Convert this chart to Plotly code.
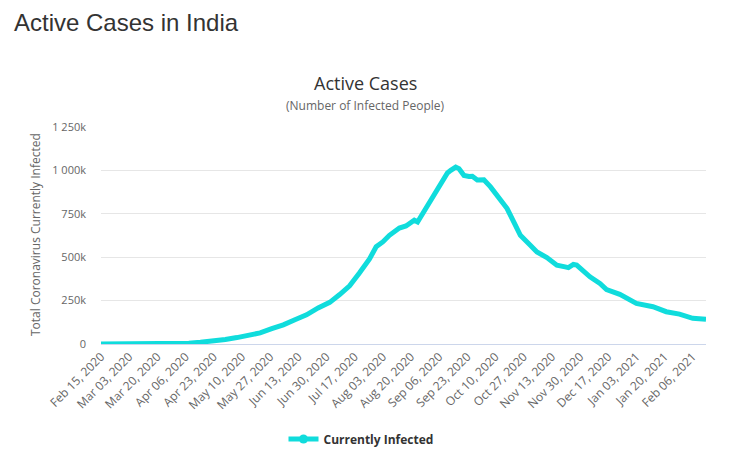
import plotly.graph_objects as go
from datetime import date, timedelta

# Sampled readings (date, active cases in thousands)
dates = [
    "2020-02-15", "2020-03-01", "2020-03-15", "2020-03-25", "2020-04-01", "2020-04-08",
    "2020-04-15", "2020-04-22", "2020-04-30", "2020-05-07", "2020-05-14", "2020-05-21",
    "2020-05-28", "2020-06-04", "2020-06-11", "2020-06-18", "2020-06-25", "2020-07-02",
    "2020-07-08", "2020-07-14", "2020-07-20", "2020-07-26", "2020-07-30", "2020-08-03",
    "2020-08-07", "2020-08-13", "2020-08-17", "2020-08-22", "2020-08-24", "2020-08-29",
    "2020-09-04", "2020-09-08", "2020-09-11", "2020-09-13", "2020-09-16", "2020-09-18",
    "2020-09-21", "2020-09-24", "2020-09-26", "2020-09-29", "2020-10-03", "2020-10-07",
    "2020-10-12", "2020-10-17", "2020-10-21", "2020-10-25", "2020-10-31", "2020-11-04",
    "2020-11-10", "2020-11-16", "2020-11-21", "2020-11-23", "2020-11-26", "2020-11-28",
    "2020-12-06", "2020-12-12", "2020-12-16", "2020-12-24", "2021-01-03", "2021-01-13",
    "2021-01-21", "2021-01-29", "2021-02-06", "2021-02-14",
]
active_k = [
    0, 0, 0.1, 0.6, 1.7, 5,
    10, 16, 26, 37, 50, 64,
    88, 110, 140, 168, 208, 240,
    285, 335, 410, 490, 560, 588,
    626, 668, 680, 713, 703, 780,
    870, 940, 985, 1000, 1019, 1010,
    971, 965, 966, 945, 946, 905,
    847, 780, 703, 626, 569, 530,
    498, 454, 444, 440, 458, 455,
    387, 349, 314, 286, 234, 215,
    186, 172, 148, 142,
]
active = [v * 1000 for v in active_k]

y_tickvals = [0, 250000, 500000, 750000, 1000000, 1250000]
y_ticktext = ["0", "250k", "500k", "750k", "1 000k", "1 250k"]

# x tick labels every 17 days starting Feb 15, 2020
start = date(2020, 2, 15)
x_tickvals = [(start + timedelta(days=17 * i)).isoformat() for i in range(22)]
x_ticktext = [(start + timedelta(days=17 * i)).strftime("%b %d, %Y") for i in range(22)]

color = "#10dcdc"
font = "Open Sans, DejaVu Sans, sans-serif"

# page has an 8px body margin; figure coordinates below are page coords minus 8
OFF = 8
W, H = 740 - OFF, 461 - OFF
PL, PR, PT, PB = 101 - OFF, 706 - OFF, 127 - OFF, 344 - OFF
PW, PH = PR - PL, PB - PT


def px(x):
    return (x - OFF - PL) / PW


def py(y):
    return (PB - (y - OFF)) / PH


fig = go.Figure()
fig.add_trace(go.Scatter(
    x=dates, y=active, mode="lines", line=dict(color=color, width=5),
    showlegend=False, hoverinfo="x+y"))
fig.add_trace(go.Scatter(
    x=[None], y=[None], mode="lines+markers", name="<b>Currently Infected</b>",
    line=dict(color=color, width=5), marker=dict(color=color, size=9)))

fig.update_layout(
    width=W, height=H,
    margin=dict(l=PL, r=W - PR, t=PT, b=H - PB, autoexpand=False),
    paper_bgcolor="white", plot_bgcolor="white",
    font=dict(family=font, color="#666666", size=11),
    showlegend=True,
    legend=dict(orientation="h", x=px(361), xanchor="center", y=py(439), yanchor="middle",
                font=dict(size=12, color="#333333", family=font)),
    xaxis=dict(type="date", range=["2020-02-15", "2021-02-14"],
               tickvals=x_tickvals, ticktext=x_ticktext, tickangle=-45,
               showgrid=False, showline=True, linecolor="#ccd6eb", linewidth=1,
               ticks="", tickfont=dict(size=12, color="#666666"), zeroline=False),
    yaxis=dict(range=[0, 1250000], tickvals=y_tickvals, ticktext=y_ticktext,
               showgrid=True, gridcolor="#e6e6e6", gridwidth=1, zeroline=False,
               showline=False, ticks="", ticklen=0, ticklabelstandoff=14,
               tickfont=dict(size=11, color="#666666")),
    annotations=[
        dict(text="Active Cases in India", xref="paper", yref="paper",
             x=px(12), y=py(22), xanchor="left", yanchor="middle",
             showarrow=False, font=dict(family="Liberation Sans, Arial, sans-serif", size=24, color="#333333")),
        dict(text="Active Cases", xref="paper", yref="paper",
             x=px(365), y=py(83), xanchor="center", yanchor="middle",
             showarrow=False, font=dict(family=font, size=18, color="#333333")),
        dict(text="(Number of Infected People)", xref="paper", yref="paper",
             x=px(365), y=py(105), xanchor="center", yanchor="middle",
             showarrow=False, font=dict(family=font, size=12, color="#666666")),
        dict(text="Total Coronavirus Currently Infected", xref="paper", yref="paper",
             x=px(35), y=py(235), xanchor="center", yanchor="middle",
             textangle=-90, showarrow=False, font=dict(family=font, size=12, color="#666666")),
    ],
)

fig.write_html("out.html")
